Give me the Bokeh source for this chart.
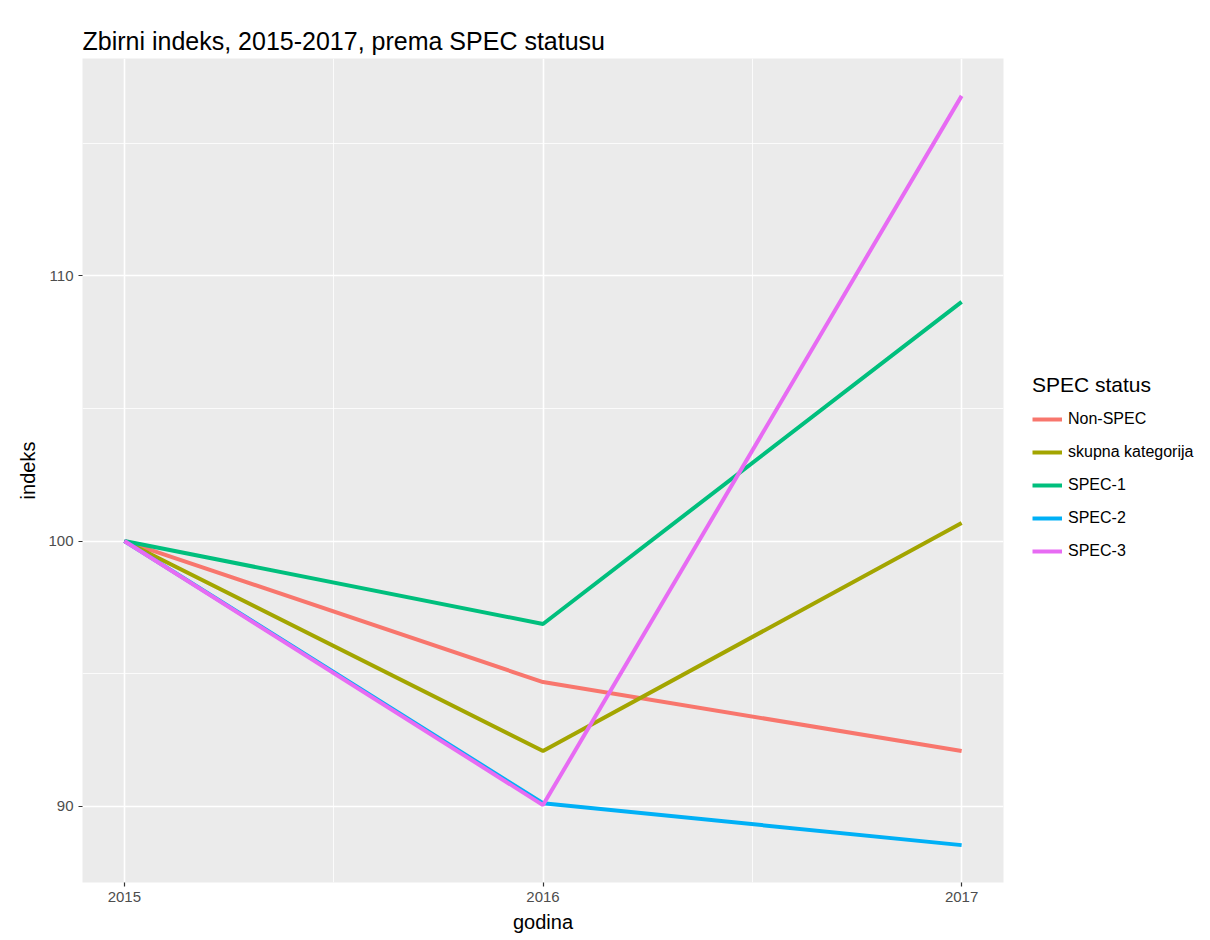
from bokeh.plotting import figure
from bokeh.models import FixedTicker, Legend, LegendItem, Range1d
from bokeh.embed import file_html
from bokeh.resources import INLINE

years = [2015, 2016, 2017]
series_names = ["Non-SPEC", "skupna kategorija", "SPEC-1", "SPEC-2", "SPEC-3"]
non_spec = [100.0, 94.68, 92.08]
skupna = [100.0, 92.08, 100.68]
spec1 = [100.0, 96.87, 109.02]
spec2 = [100.0, 90.11, 88.53]
spec3 = [100.0, 90.04, 116.79]
colors = ["#F8766D", "#A3A500", "#00BF7D", "#00B0F6", "#E76BF3"]
y_ticks = [90, 100, 110]
y_minor = [95, 105, 115]
x_ticks = [2015, 2016, 2017]
x_minor = [2015.5, 2016.5]

FONT = "Liberation Sans"

p = figure(frame_width=921, frame_height=824, output_backend="svg", toolbar_location=None,
           x_range=Range1d(2014.9, 2017.1), y_range=Range1d(87.12, 118.2),
           min_border_left=82, min_border_top=58, min_border_bottom=50, min_border_right=0)

p.title.text = "Zbirni indeks, 2015-2017, prema SPEC statusu"
p.title.text_font = FONT
p.title.text_font_size = "25px"
p.title.text_font_style = "normal"
p.title.text_color = "black"
p.title.standoff = 8

p.background_fill_color = "#EBEBEB"
p.border_fill_color = "white"
p.outline_line_color = None

for g in (p.xgrid, p.ygrid):
    g.grid_line_color = "white"
    g.grid_line_width = 1.6
    g.minor_grid_line_color = "white"
    g.minor_grid_line_width = 0.8

p.xaxis.ticker = FixedTicker(ticks=x_ticks, minor_ticks=x_minor)
p.yaxis.ticker = FixedTicker(ticks=y_ticks, minor_ticks=y_minor)

for ax in (p.xaxis, p.yaxis):
    ax.axis_line_color = None
    ax.major_tick_line_color = "#333333"
    ax.major_tick_line_width = 1.2
    ax.major_tick_out = 4
    ax.major_tick_in = 0
    ax.minor_tick_line_color = None
    ax.major_label_text_font = FONT
    ax.major_label_text_font_size = "15px"
    ax.major_label_text_color = "#4D4D4D"
    ax.major_label_standoff = 5
    ax.axis_label_text_font = FONT
    ax.axis_label_text_font_size = "20px"
    ax.axis_label_text_font_style = "normal"
    ax.axis_label_text_color = "black"
    ax.axis_label_standoff = 6

p.xaxis.axis_label = "godina"
p.yaxis.axis_label = "indeks"

items = []
for name, vals, c in zip(series_names, [non_spec, skupna, spec1, spec2, spec3], colors):
    r = p.line(years, vals, line_color=c, line_width=4)
    items.append(LegendItem(label=name, renderers=[r]))

legend = Legend(items=items, location="left", title="SPEC status",
                title_text_font=FONT, title_text_font_size="21px", title_text_font_style="normal",
                title_text_color="black", title_standoff=6,
                label_text_font=FONT, label_text_font_size="16px", label_text_color="black",
                glyph_width=30, glyph_height=32, label_standoff=6, spacing=1,
                padding=3, margin=29, border_line_color=None, background_fill_alpha=0)
p.add_layout(legend, "right")

open("out.html", "w").write(file_html(p, INLINE))
